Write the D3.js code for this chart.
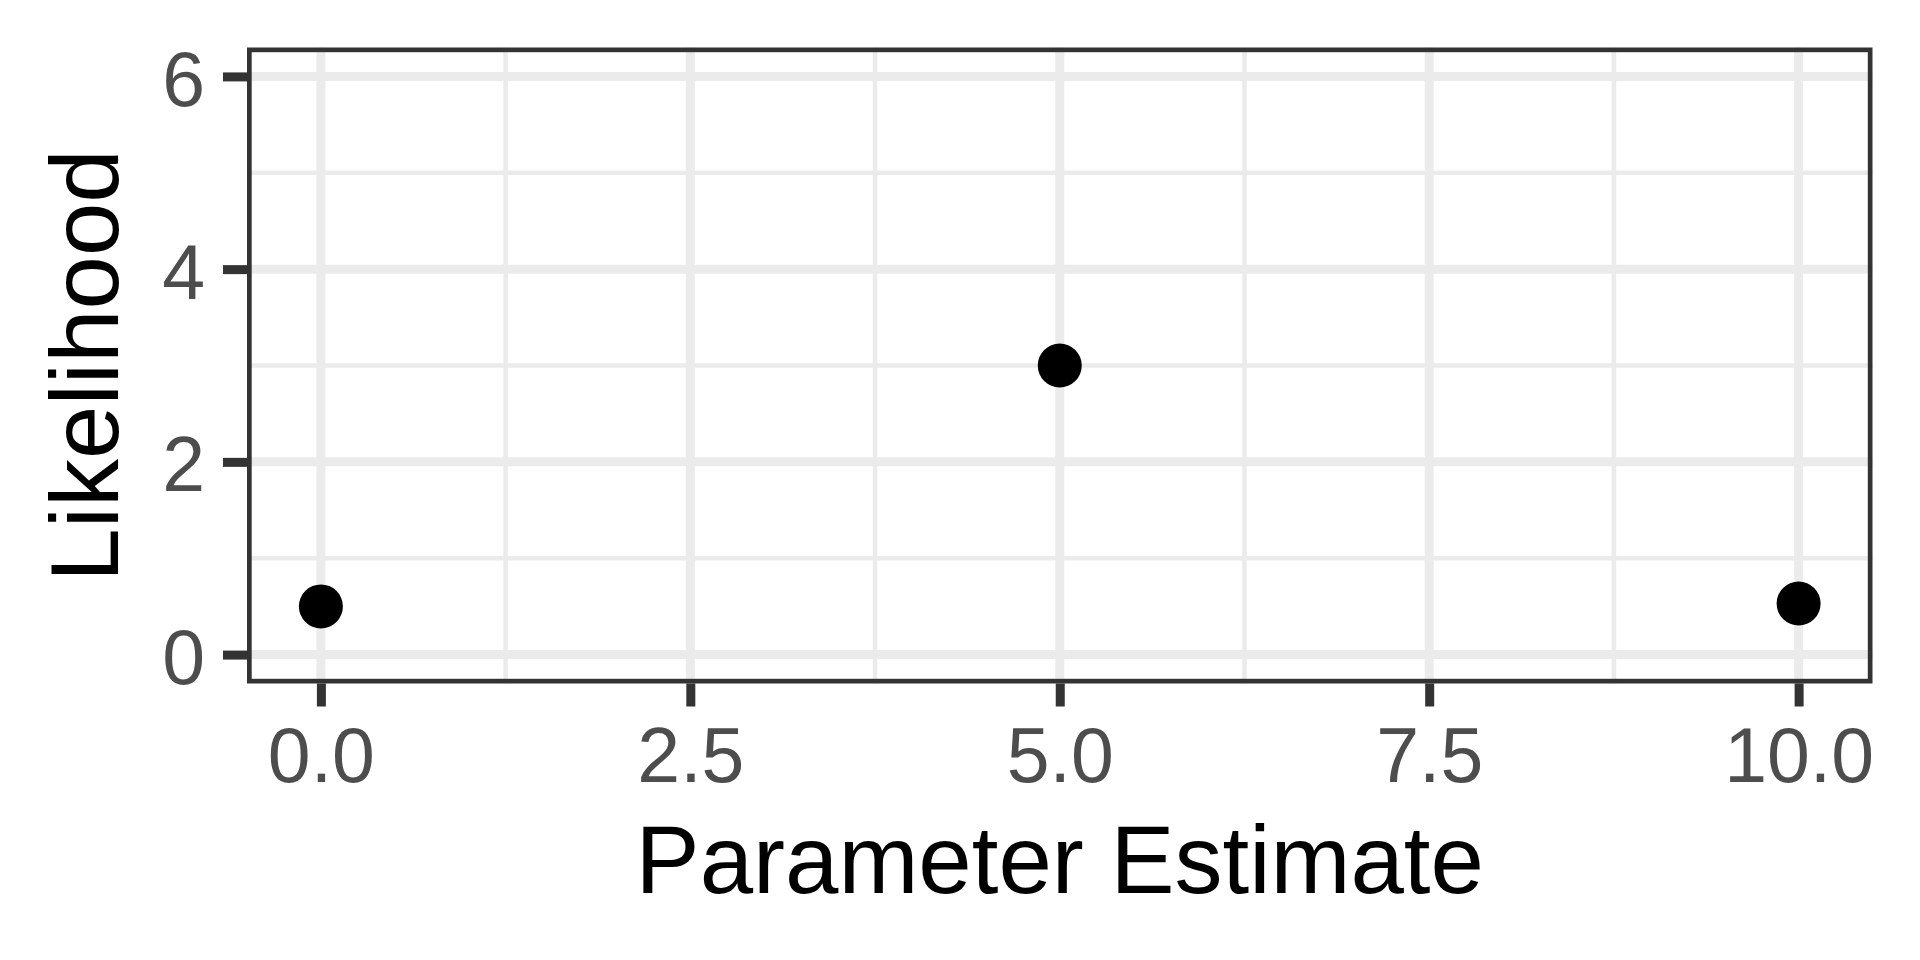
<!DOCTYPE html>
<html>
<head>
<meta charset="utf-8">
<script src="https://cdn.jsdelivr.net/npm/d3@7"></script>
<style>
  html, body { margin: 0; padding: 0; background: #fff; }
  svg { display: block; font-family: "Liberation Sans", Arial, sans-serif; }
</style>
</head>
<body>
<svg width="1920" height="960"></svg>
<script>
// data
var paramEstimate = [0, 5, 10];
var likelihood = [0.5, 3, 0.53];

// ticks + grid
var xTicks = [0, 2.5, 5, 7.5, 10];
var xMinor = [1.25, 3.75, 6.25, 8.75];
var yTicks = [0, 2, 4, 6];
var yMinor = [1, 3, 5];

var panel = {left: 247, right: 1872.5, top: 47.5, bottom: 683.5};

var svg = d3.select('svg');

//Escalas
var xScale = d3.scaleLinear().domain([-0.5, 10.5]).range([panel.left, panel.right]);
var yScale = d3.scaleLinear().domain([-0.3, 6.3]).range([panel.bottom, panel.top]);

var grid = svg.append('g').attr('class', 'grid');

// minor grid
grid.selectAll('.vminor').data(xMinor).enter().append('line')
  .attr('x1', d => xScale(d)).attr('x2', d => xScale(d))
  .attr('y1', panel.top).attr('y2', panel.bottom)
  .attr('stroke', '#EBEBEB').attr('stroke-width', 4.5);
grid.selectAll('.hminor').data(yMinor).enter().append('line')
  .attr('y1', d => yScale(d)).attr('y2', d => yScale(d))
  .attr('x1', panel.left).attr('x2', panel.right)
  .attr('stroke', '#EBEBEB').attr('stroke-width', 4.5);

// major grid
grid.selectAll('.vmajor').data(xTicks).enter().append('line')
  .attr('x1', d => xScale(d)).attr('x2', d => xScale(d))
  .attr('y1', panel.top).attr('y2', panel.bottom)
  .attr('stroke', '#EBEBEB').attr('stroke-width', 9);
grid.selectAll('.hmajor').data(yTicks).enter().append('line')
  .attr('y1', d => yScale(d)).attr('y2', d => yScale(d))
  .attr('x1', panel.left).attr('x2', panel.right)
  .attr('stroke', '#EBEBEB').attr('stroke-width', 9);

// pontos
svg.append('g').selectAll('circle')
  .data(paramEstimate)
  .enter()
  .append('circle')
  .attr('cx', d => xScale(d))
  .attr('cy', (d, i) => yScale(likelihood[i]))
  .attr('r', 22)
  .attr('fill', '#000');

// border
svg.append('rect')
  .attr('x', panel.left + 2.35).attr('y', panel.top + 2.35)
  .attr('width', panel.right - panel.left - 4.7)
  .attr('height', panel.bottom - panel.top - 4.7)
  .attr('fill', 'none').attr('stroke', '#333333').attr('stroke-width', 4.7);

// eixos
var xAxisGroup = svg.append('g')
  .attr('class', 'xAxis')
  .attr('transform', 'translate(0,' + panel.bottom + ')');
xAxisGroup.call(d3.axisBottom(xScale).tickValues(xTicks).tickFormat(d3.format('.1f'))
  .tickSize(23).tickPadding(21));

var yAxisGroup = svg.append('g')
  .attr('class', 'yAxis')
  .attr('transform', 'translate(' + panel.left + ',0)');
yAxisGroup.call(d3.axisLeft(yScale).tickValues(yTicks).tickFormat(d3.format('d'))
  .tickSize(24).tickPadding(18));
yAxisGroup.selectAll('text').attr('dy', '0.375em');

svg.selectAll('.xAxis .domain, .yAxis .domain').remove();
svg.selectAll('.xAxis .tick line, .yAxis .tick line')
  .attr('stroke', '#333333').attr('stroke-width', 9);
svg.selectAll('.xAxis text, .yAxis text')
  .attr('fill', '#4D4D4D')
  .style('font-size', '77px')
  .style('font-family', '"Liberation Sans", Arial, sans-serif');

// titulos
svg.append('text')
  .attr('x', (panel.left + panel.right) / 2)
  .attr('y', 893)
  .attr('text-anchor', 'middle')
  .style('font-size', '96px')
  .attr('fill', '#000')
  .text('Parameter Estimate');

svg.append('text')
  .attr('transform', 'translate(118,' + ((panel.top + panel.bottom) / 2) + ') rotate(-90)')
  .attr('text-anchor', 'middle')
  .style('font-size', '96px')
  .attr('fill', '#000')
  .text('Likelihood');
</script>
</body>
</html>
